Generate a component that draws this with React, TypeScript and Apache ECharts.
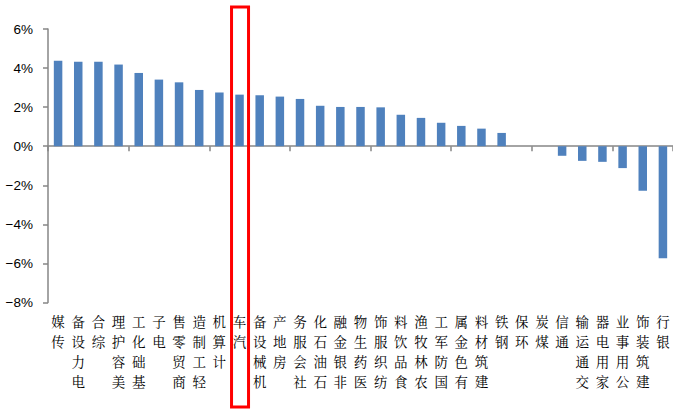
import React, { useEffect, useRef } from 'react';
import * as echarts from 'echarts';

// Shenwan level-1 industries, weekly return (%)
const industries: string[] = [
  '传媒', '电力设备', '综合', '美容护理', '基础化工', '电子', '商贸零售', '轻工制造',
  '计算机', '汽车', '机械设备', '房地产', '社会服务', '石油石化', '非银金融', '医药生物',
  '纺织服饰', '食品饮料', '农林牧渔', '国防军工', '有色金属', '建筑材料', '钢铁', '环保',
  '煤炭', '通信', '交通运输', '家用电器', '公用事业', '建筑装饰', '银行',
];

const returns: number[] = [
  4.38, 4.32, 4.32, 4.18, 3.75, 3.41, 3.27, 2.88,
  2.75, 2.64, 2.61, 2.54, 2.42, 2.07, 2.01, 2.01,
  1.99, 1.61, 1.45, 1.2, 1.04, 0.9, 0.68, 0.0,
  0.0, -0.49, -0.75, -0.8, -1.12, -2.28, -5.74,
];

const yMin = -8;
const yMax = 6;
const yStep = 2;

const highlighted = '汽车';

const axisColor = '#868686';
const barColor = '#4f81bd';
const cjkFont = 'SimSun, "Noto Serif CJK SC", "Noto Sans CJK SC", serif';

export default function App() {
  const ref = useRef<HTMLDivElement>(null);

  useEffect(() => {
    document.body.style.margin = '0';
    if (!ref.current) return;
    const chart = echarts.init(ref.current, null, { renderer: 'svg' });

    chart.setOption({
      animation: false,
      backgroundColor: '#ffffff',
      grid: { left: 48, top: 29, width: 627, height: 273.5, containLabel: false },
      xAxis: [
        {
          type: 'category',
          data: industries,
          position: 'bottom',
          boundaryGap: true,
          axisLine: { show: true, onZero: true, lineStyle: { color: axisColor, width: 1.5 } },
          axisTick: { show: true, length: 5, lineStyle: { color: axisColor, width: 1.5 } },
          axisLabel: { show: false },
        },
        {
          type: 'category',
          data: industries,
          position: 'bottom',
          boundaryGap: true,
          axisLine: { show: false, onZero: false },
          axisTick: { show: false },
          axisLabel: {
            show: true,
            interval: 0,
            margin: 8.5,
            color: '#000',
            fontSize: 13.5,
            lineHeight: 20,
            fontFamily: cjkFont,
            align: 'center',
            verticalAlign: 'top',
            // rotated column text: last character on top, reading upward
            formatter: (v: string) => v.split('').reverse().join('\n'),
          },
        },
      ],
      yAxis: {
        type: 'value',
        min: yMin,
        max: yMax,
        interval: yStep,
        splitLine: { show: false },
        axisLine: { show: true, lineStyle: { color: axisColor, width: 1.5 } },
        axisTick: { show: true, length: 5, lineStyle: { color: axisColor, width: 1.5 } },
        axisLabel: {
          margin: 15,
          color: '#000',
          fontSize: 13.5,
          fontFamily: '"Liberation Sans", Arial, sans-serif',
          formatter: (v: number) => (v < 0 ? '\u2212' : '') + Math.abs(v) + '%',
        },
      },
      series: [
        {
          type: 'bar',
          xAxisIndex: 0,
          yAxisIndex: 0,
          data: returns,
          barWidth: 8.5,
          itemStyle: { color: barColor },
        },
      ],
    });

    // Red frame around the highlighted industry column
    const cx = chart.convertToPixel({ xAxisIndex: 0 }, highlighted) as number;
    chart.setOption({
      graphic: [
        {
          type: 'rect',
          shape: { x: cx - 8, y: 7, width: 17, height: 400 },
          style: { fill: 'none', stroke: '#ff0000', lineWidth: 3 },
          z: 100,
        },
      ],
    });

    return () => chart.dispose();
  }, []);

  return <div ref={ref} style={{ width: 673, height: 410 }} />;
}
